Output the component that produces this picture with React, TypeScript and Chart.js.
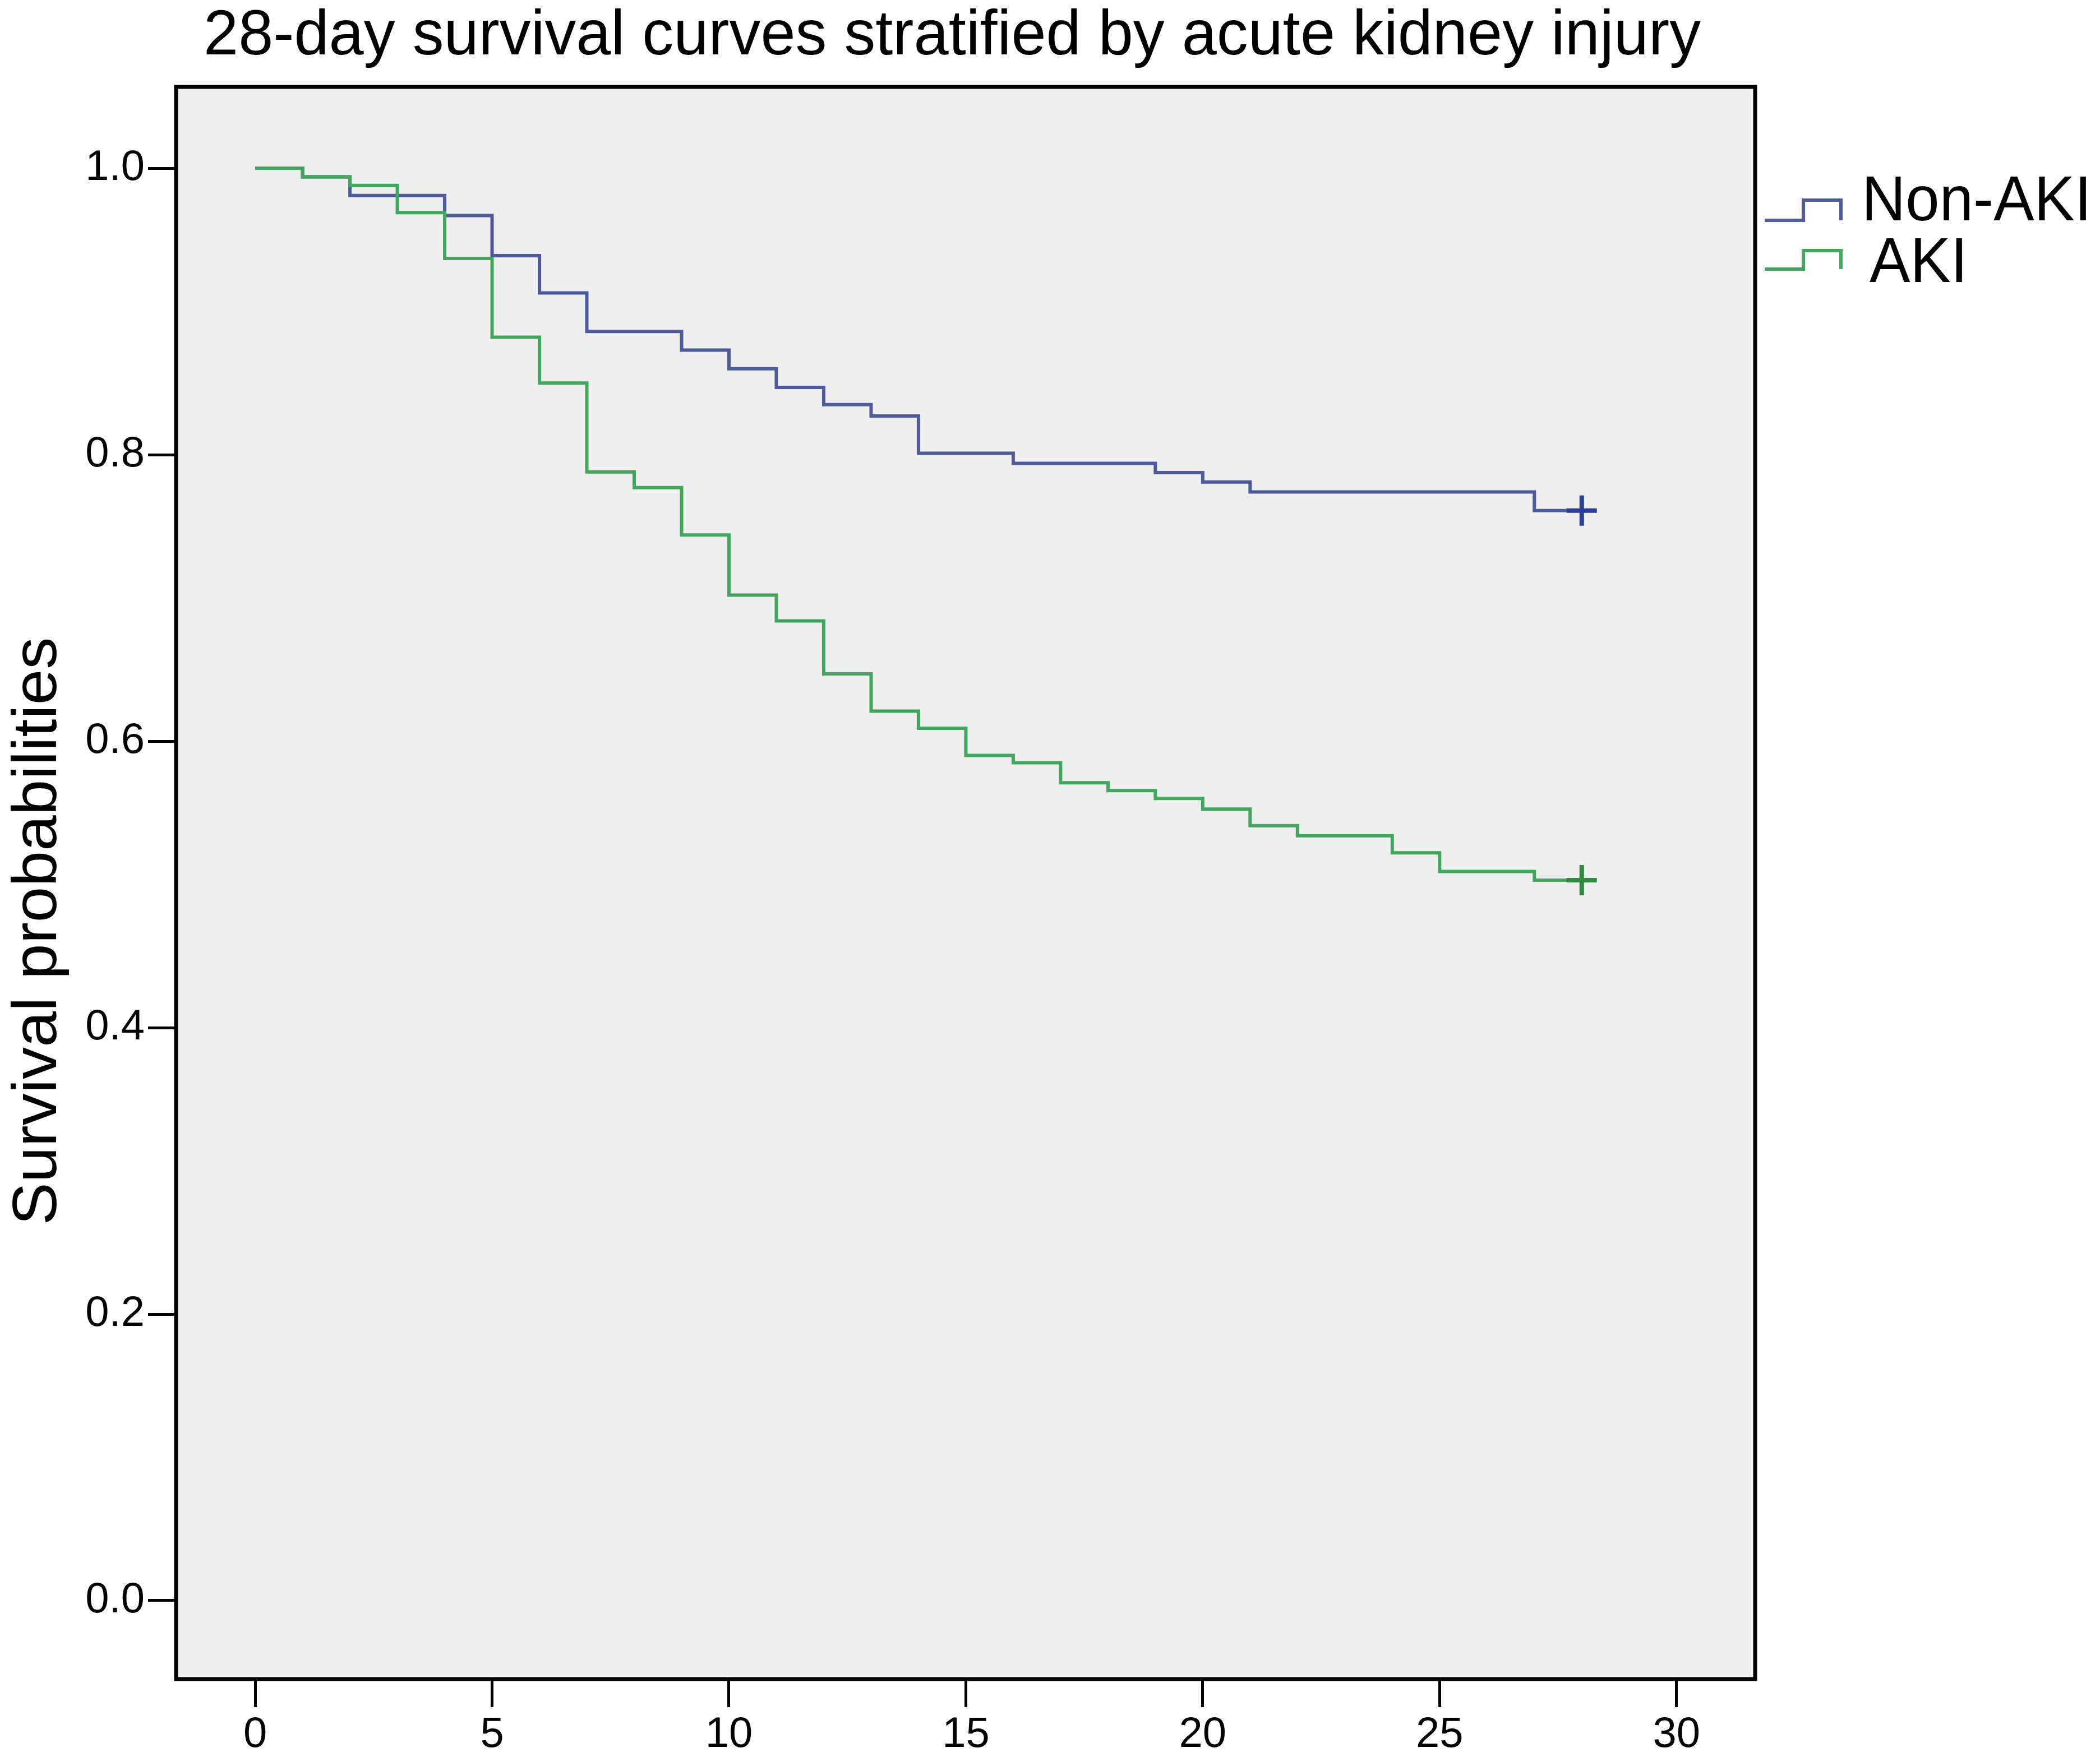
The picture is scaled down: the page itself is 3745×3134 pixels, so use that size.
import { useEffect, useRef } from 'react';
import { Chart, registerables } from 'chart.js';
Chart.register(...registerables);

const W = 3745;
const H = 3134;

const titleText = '28-day survival curves stratified by acute kidney injury';
const yAxisTitle = 'Survival probabilities';
const seriesLabels = ['Non-AKI', 'AKI'];

const nonAkiDays = [0, 1, 2, 4, 5, 6, 7, 9, 10, 11, 12, 13, 14, 16, 19, 20, 21, 27, 28];
const nonAkiSurvival = [1.0, 0.994, 0.981, 0.967, 0.939, 0.913, 0.886, 0.873, 0.86, 0.847, 0.835, 0.827, 0.801, 0.794, 0.7875, 0.781, 0.774, 0.761, 0.761];

const akiDays = [0, 1, 2, 3, 4, 5, 6, 7, 8, 9, 10, 11, 12, 13, 14, 15, 16, 17, 18, 19, 20, 21, 22, 24, 25, 27, 28];
const akiSurvival = [1.0, 0.994, 0.988, 0.969, 0.937, 0.882, 0.85, 0.788, 0.777, 0.744, 0.702, 0.684, 0.647, 0.621, 0.609, 0.59, 0.585, 0.571, 0.5655, 0.56, 0.5526, 0.541, 0.534, 0.522, 0.509, 0.503, 0.503];

const xTicks = [0, 5, 10, 15, 20, 25, 30];
const yTicks = [0.0, 0.2, 0.4, 0.6, 0.8, 1.0];

const lineColors = ['#4d5a9c', '#42a65c'];
const markerColors = ['#2c3f98', '#2f8a40'];

const FONT = '"Liberation Sans", Arial, sans-serif';

function fitText(ctx: CanvasRenderingContext2D, text: string, x: number, y: number, size: number, width: number) {
  ctx.font = `${size}px ${FONT}`;
  const w = ctx.measureText(text).width;
  ctx.save();
  ctx.translate(x, y);
  ctx.scale(width / w, 1);
  ctx.fillText(text, 0, 0);
  ctx.restore();
}

const decorPlugin = {
  id: 'decor',
  beforeDraw(chart: any) {
    const { ctx, chartArea } = chart;
    const { left, top, right, bottom } = chartArea;
    ctx.save();
    ctx.fillStyle = '#ffffff';
    ctx.fillRect(0, 0, chart.width, chart.height);
    ctx.fillStyle = '#efefef';
    ctx.fillRect(left, top, right - left, bottom - top);
    ctx.restore();
  },
  afterDraw(chart: any) {
    const { ctx, chartArea } = chart;
    const { left, top, right, bottom } = chartArea;
    ctx.save();
    // frame
    ctx.strokeStyle = '#000000';
    ctx.lineWidth = 7;
    ctx.strokeRect(left, top, right - left, bottom - top);

    ctx.fillStyle = '#000000';
    ctx.textAlign = 'left';
    ctx.textBaseline = 'alphabetic';
    // title
    fitText(ctx, titleText, 363, 97, 113, 2670);

    // y axis title
    ctx.save();
    ctx.translate(100, 1661);
    ctx.rotate(-Math.PI / 2);
    ctx.font = `112px ${FONT}`;
    const tw = ctx.measureText(yAxisTitle).width;
    ctx.scale(1049 / tw, 1);
    ctx.textAlign = 'center';
    ctx.fillText(yAxisTitle, 0, 0);
    ctx.restore();

    // legend
    const legendRows = [
      { low: 393, high: 357 },
      { low: 480, high: 447 },
    ];
    legendRows.forEach((row, i) => {
      ctx.strokeStyle = lineColors[i];
      ctx.lineWidth = 6;
      ctx.beginPath();
      ctx.moveTo(3147, row.low);
      ctx.lineTo(3216, row.low);
      ctx.lineTo(3216, row.high);
      ctx.lineTo(3283, row.high);
      ctx.lineTo(3283, row.low);
      ctx.stroke();
    });
    ctx.fillStyle = '#000000';
    fitText(ctx, seriesLabels[0], 3320, 393, 113, 410);
    fitText(ctx, seriesLabels[1], 3334, 503, 113, 175);
    ctx.restore();
  },
};

function makeData(days: number[], surv: number[]) {
  return days.map((d, i) => ({ x: d, y: surv[i] }));
}

export default function App() {
  const ref = useRef<HTMLCanvasElement>(null);
  useEffect(() => {
    document.body.style.margin = '0';
    const lastIdx = (n: number) => (ctx: any) => (ctx.dataIndex === n - 1 ? 27 : 0);
    const chart = new Chart(ref.current!, {
      type: 'line',
      data: {
        datasets: [
          {
            label: seriesLabels[0],
            data: makeData(nonAkiDays, nonAkiSurvival),
            borderColor: lineColors[0],
            borderWidth: 6,
            stepped: 'before',
            fill: false,
            order: 2,
            pointStyle: 'cross',
            pointRadius: lastIdx(nonAkiDays.length),
            pointBorderColor: markerColors[0],
            pointBorderWidth: 8,
          },
          {
            label: seriesLabels[1],
            data: makeData(akiDays, akiSurvival),
            borderColor: lineColors[1],
            borderWidth: 6,
            stepped: 'before',
            fill: false,
            order: 1,
            pointStyle: 'cross',
            pointRadius: lastIdx(akiDays.length),
            pointBorderColor: markerColors[1],
            pointBorderWidth: 8,
          },
        ],
      },
      options: {
        responsive: false,
        devicePixelRatio: 1,
        animation: false,
        layout: { padding: { top: 155, right: 615, left: 0, bottom: 0 } },
        plugins: {
          legend: { display: false },
          tooltip: { enabled: false },
          title: { display: false },
        },
        scales: {
          x: {
            type: 'linear',
            min: -1.67,
            max: 31.66,
            afterBuildTicks: (s: any) => {
              s.ticks = xTicks.map((v) => ({ value: v }));
            },
            afterFit: (s: any) => {
              s.height = 139;
            },
            border: { display: false },
            grid: {
              drawOnChartArea: false,
              drawTicks: true,
              tickLength: 50,
              tickWidth: 5,
              tickColor: '#000000',
            },
            ticks: {
              color: '#000000',
              padding: 4,
              maxRotation: 0,
              autoSkip: false,
              font: { family: FONT, size: 76 },
              callback: (v: any) => String(v),
            },
          },
          y: {
            type: 'linear',
            min: -0.0548,
            max: 1.0568,
            afterBuildTicks: (s: any) => {
              s.ticks = yTicks.map((v) => ({ value: v }));
            },
            afterFit: (s: any) => {
              s.width = 314;
            },
            border: { display: false },
            grid: {
              drawOnChartArea: false,
              drawTicks: true,
              tickLength: 50,
              tickWidth: 5,
              tickColor: '#000000',
            },
            ticks: {
              color: '#000000',
              padding: 6,
              autoSkip: false,
              font: { family: FONT, size: 76 },
              callback: (v: any) => Number(v).toFixed(1),
            },
          },
        },
      },
      plugins: [decorPlugin],
    } as any);
    return () => chart.destroy();
  }, []);
  return (
    <div style={{ width: W, height: H }}>
      <canvas ref={ref} width={W} height={H} style={{ display: 'block', width: W, height: H }} />
    </div>
  );
}
